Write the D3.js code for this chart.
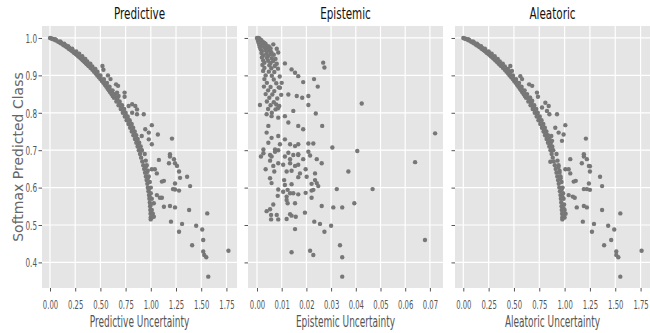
<!DOCTYPE html>
<html>
<head>
<meta charset="utf-8">
<script src="https://cdn.jsdelivr.net/npm/d3@7"></script>
<style>
  html, body { margin: 0; padding: 0; background: #fff; }
  svg { display: block; }
</style>
</head>
<body>
<script>
// chart values: [uncertainty, softmax of predicted class]
const predictivePts = [
  [0.0, 1.0], [0.011, 0.999], [0.021, 0.998], [0.03, 0.997], [0.045, 0.995], [0.06, 0.993],
  [0.081, 0.99], [0.1, 0.987], [0.112, 0.985], [0.13, 0.982], [0.141, 0.98], [0.158, 0.977],
  [0.169, 0.975], [0.184, 0.972], [0.194, 0.97], [0.209, 0.967], [0.219, 0.965], [0.233, 0.962],
  [0.242, 0.96], [0.256, 0.957], [0.265, 0.955], [0.278, 0.952], [0.286, 0.95], [0.299, 0.947],
  [0.307, 0.945], [0.32, 0.942], [0.327, 0.94], [0.339, 0.937], [0.347, 0.935], [0.358, 0.932],
  [0.366, 0.93], [0.377, 0.927], [0.384, 0.925], [0.402, 0.92], [0.42, 0.915], [0.437, 0.91],
  [0.453, 0.905], [0.469, 0.9], [0.485, 0.895], [0.5, 0.89], [0.515, 0.885], [0.529, 0.88],
  [0.544, 0.875], [0.557, 0.87], [0.571, 0.865], [0.584, 0.86], [0.597, 0.855], [0.61, 0.85],
  [0.622, 0.845], [0.634, 0.84], [0.658, 0.83], [0.68, 0.82], [0.702, 0.81], [0.722, 0.8],
  [0.742, 0.79], [0.76, 0.78], [0.778, 0.77], [0.795, 0.76], [0.811, 0.75], [0.827, 0.74],
  [0.842, 0.73], [0.856, 0.72], [0.869, 0.71], [0.881, 0.7], [0.893, 0.69], [0.904, 0.68],
  [0.915, 0.67], [0.925, 0.66], [0.934, 0.65], [0.943, 0.64], [0.951, 0.63], [0.958, 0.62],
  [0.965, 0.61], [0.971, 0.6], [0.977, 0.59], [0.982, 0.58], [0.986, 0.57], [0.99, 0.56],
  [0.993, 0.55], [0.995, 0.54], [0.997, 0.53], [0.999, 0.52], [0.999, 0.515],
  // band just right of the envelope
  [0.05, 0.997], [0.1, 0.991], [0.14, 0.985], [0.18, 0.978], [0.22, 0.971], [0.26, 0.964],
  [0.29, 0.958], [0.32, 0.951], [0.35, 0.944], [0.37, 0.937], [0.4, 0.931], [0.42, 0.924],
  [0.45, 0.917], [0.47, 0.91], [0.5, 0.9], [0.535, 0.89], [0.565, 0.88], [0.59, 0.87],
  [0.62, 0.86], [0.645, 0.85], [0.67, 0.84], [0.69, 0.83], [0.715, 0.82], [0.735, 0.81],
  [0.75, 0.8], [0.77, 0.79], [0.79, 0.78], [0.81, 0.77], [0.825, 0.76], [0.84, 0.75],
  [0.855, 0.74], [0.87, 0.73], [0.885, 0.72], [0.9, 0.71], [0.91, 0.7],
  [0.06, 0.995], [0.11, 0.988], [0.155, 0.981], [0.19, 0.974], [0.225, 0.967], [0.26, 0.96],
  [0.287, 0.954], [0.317, 0.947], [0.345, 0.94], [0.37, 0.934], [0.395, 0.927], [0.42, 0.92],
  [0.445, 0.913], [0.47, 0.905], [0.5, 0.895], [0.533, 0.885], [0.56, 0.875], [0.59, 0.865],
  [0.615, 0.855], [0.64, 0.845], [0.665, 0.835], [0.69, 0.825], [0.71, 0.815], [0.73, 0.805],
  [0.75, 0.795], [0.77, 0.785], [0.79, 0.775], [0.805, 0.765], [0.82, 0.755], [0.836, 0.745],
  [0.85, 0.735], [0.865, 0.725], [0.88, 0.715], [0.893, 0.705],
  [0.94, 0.69], [0.95, 0.672], [0.96, 0.66], [0.97, 0.645], [0.98, 0.63], [0.99, 0.615],
  [1.0, 0.6], [1.0, 0.585], [1.01, 0.57], [1.0, 0.555], [1.01, 0.54], [1.02, 0.53],
  [1.01, 0.52], [0.99, 0.575], [0.98, 0.595], [0.97, 0.625], [0.96, 0.64], [0.95, 0.655],
  // scattered points
  [0.52, 0.925], [0.53, 0.915], [0.575, 0.9], [0.6, 0.89], [0.655, 0.876], [0.675, 0.872],
  [0.74, 0.854], [0.74, 0.843], [0.665, 0.854], [0.68, 0.845], [0.78, 0.818], [0.815, 0.823],
  [0.846, 0.818], [0.863, 0.809], [0.815, 0.8], [0.863, 0.796], [0.93, 0.796], [1.01, 0.767],
  [0.945, 0.756], [0.98, 0.747], [1.07, 0.742], [0.98, 0.729], [1.01, 0.716], [0.91, 0.738],
  [1.21, 0.731], [1.19, 0.689], [0.91, 0.699], [1.08, 0.674], [1.19, 0.683], [1.23, 0.676],
  [1.24, 0.665], [1.26, 0.658], [1.18, 0.665], [1.28, 0.643], [1.29, 0.626], [1.36, 0.629],
  [1.39, 0.604], [1.01, 0.649], [1.04, 0.649], [1.06, 0.638], [1.11, 0.616], [1.13, 0.618],
  [1.24, 0.611], [1.24, 0.595], [1.28, 0.592], [1.22, 0.596], [1.06, 0.58], [1.09, 0.573],
  [1.11, 0.573], [1.03, 0.558], [1.13, 0.549], [1.19, 0.551], [1.24, 0.547], [1.38, 0.54],
  [1.56, 0.531], [1.2, 0.509], [1.31, 0.503], [1.28, 0.482], [1.45, 0.498], [1.51, 0.488],
  [1.52, 0.46], [1.41, 0.446], [1.52, 0.429], [1.53, 0.42], [1.55, 0.414], [1.77, 0.431],
  [1.57, 0.362], [1.03, 0.522]
];

const epistemicPts = [
  // dense wedge near zero
  [0.0, 1.0], [0.0005, 1.0], [0.001, 0.999], [0.0003, 0.995], [0.001, 0.995], [0.0018, 0.994],
  [0.0005, 0.99], [0.0015, 0.99], [0.0025, 0.989], [0.003, 0.987], [0.0008, 0.985], [0.002, 0.985],
  [0.0035, 0.984], [0.001, 0.98], [0.0025, 0.98], [0.004, 0.979], [0.0048, 0.977], [0.0012, 0.975],
  [0.003, 0.975], [0.0045, 0.973], [0.0055, 0.972], [0.0015, 0.97], [0.0035, 0.968], [0.005, 0.967],
  [0.002, 0.965], [0.004, 0.963], [0.0058, 0.962], [0.0018, 0.96], [0.0038, 0.958], [0.0055, 0.957],
  [0.0068, 0.955], [0.0025, 0.953], [0.0045, 0.952], [0.002, 0.948], [0.004, 0.947], [0.006, 0.946],
  [0.0075, 0.944], [0.0025, 0.94], [0.0045, 0.939], [0.0065, 0.938], [0.003, 0.934], [0.0055, 0.933],
  [0.008, 0.931], [0.0022, 0.928], [0.005, 0.927], [0.0072, 0.925], [0.003, 0.92], [0.0058, 0.919],
  [0.0085, 0.918], [0.0025, 0.912], [0.0048, 0.91], [0.007, 0.909], [0.0035, 0.9], [0.006, 0.899],
  [0.0092, 0.897], [0.003, 0.89], [0.0068, 0.889], [0.004, 0.88], [0.0078, 0.879], [0.0028, 0.87],
  [0.0055, 0.869], [0.0088, 0.868], [0.0045, 0.86], [0.007, 0.858], [0.0035, 0.85], [0.0062, 0.849],
  [0.0098, 0.848], [0.005, 0.84], [0.0082, 0.838], [0.004, 0.83], [0.0068, 0.828], [0.0055, 0.82],
  [0.009, 0.818], [0.0045, 0.81], [0.0075, 0.809], [0.006, 0.8], [0.0085, 0.812], [0.0078, 0.822],
  // looser points
  [0.0066, 0.983], [0.008, 0.971], [0.0086, 0.961], [0.0113, 0.932], [0.014, 0.916], [0.0154, 0.907],
  [0.0167, 0.898], [0.0187, 0.882], [0.0268, 0.934], [0.0273, 0.921], [0.0231, 0.89], [0.0246, 0.87],
  [0.01, 0.88], [0.0093, 0.867], [0.0127, 0.849], [0.0161, 0.845], [0.0183, 0.84], [0.0208, 0.845],
  [0.0208, 0.821], [0.0424, 0.825], [0.0012, 0.821], [0.0147, 0.805], [0.0238, 0.798], [0.0039, 0.796],
  [0.0059, 0.791], [0.0086, 0.787], [0.0113, 0.791], [0.0127, 0.774], [0.0167, 0.765], [0.0187, 0.756],
  [0.0264, 0.765], [0.0721, 0.745], [0.0046, 0.765], [0.0039, 0.747], [0.0059, 0.733], [0.0046, 0.72],
  [0.0086, 0.738], [0.0113, 0.729], [0.0093, 0.716], [0.0134, 0.716], [0.0154, 0.711], [0.0167, 0.716],
  [0.0208, 0.718], [0.0228, 0.718], [0.0305, 0.707], [0.0406, 0.698], [0.0026, 0.702], [0.0073, 0.702],
  [0.0127, 0.693], [0.0167, 0.689], [0.0215, 0.686], [0.064, 0.668], [0.0016, 0.683], [0.0026, 0.692],
  [0.0053, 0.687], [0.0059, 0.683], [0.0073, 0.696], [0.0086, 0.7], [0.0113, 0.683], [0.0134, 0.676],
  [0.0147, 0.687], [0.0167, 0.687], [0.0187, 0.676], [0.0208, 0.696], [0.0242, 0.676], [0.0262, 0.665],
  [0.0053, 0.672], [0.0066, 0.658], [0.0086, 0.665], [0.0106, 0.661], [0.0134, 0.665], [0.0154, 0.658],
  [0.0167, 0.661], [0.0035, 0.649], [0.007, 0.643], [0.012, 0.643], [0.014, 0.645], [0.0174, 0.638],
  [0.0197, 0.649], [0.0235, 0.638], [0.037, 0.643], [0.0053, 0.625], [0.0059, 0.612], [0.011, 0.62],
  [0.0113, 0.607], [0.014, 0.609], [0.0167, 0.628], [0.0201, 0.629], [0.0235, 0.62], [0.0221, 0.61],
  [0.0248, 0.604], [0.0242, 0.612], [0.0323, 0.596], [0.0468, 0.596], [0.0086, 0.595], [0.0106, 0.589],
  [0.0124, 0.594], [0.0134, 0.585], [0.012, 0.576], [0.0147, 0.585], [0.0167, 0.582], [0.0197, 0.586],
  [0.0221, 0.592], [0.0228, 0.594], [0.0084, 0.578], [0.012, 0.567], [0.0124, 0.558], [0.0154, 0.558],
  [0.0221, 0.573], [0.0262, 0.551], [0.0309, 0.547], [0.0345, 0.547], [0.0394, 0.558], [0.0066, 0.555],
  [0.0039, 0.537], [0.0053, 0.542], [0.0057, 0.527], [0.0057, 0.515], [0.008, 0.527], [0.0086, 0.515],
  [0.012, 0.516], [0.0134, 0.529], [0.014, 0.525], [0.0157, 0.522], [0.0194, 0.533], [0.0154, 0.489],
  [0.0232, 0.509], [0.0255, 0.503], [0.0273, 0.482], [0.03, 0.498], [0.0336, 0.446], [0.068, 0.46],
  [0.014, 0.427], [0.0215, 0.431], [0.0228, 0.42], [0.0345, 0.414], [0.0345, 0.362]
];

const aleatoricPts = [
  [0.0, 1.0], [0.01, 0.999], [0.02, 0.998], [0.029, 0.997], [0.044, 0.995], [0.058, 0.993],
  [0.078, 0.99], [0.097, 0.987], [0.109, 0.985], [0.126, 0.982], [0.137, 0.98], [0.153, 0.977],
  [0.164, 0.975], [0.179, 0.972], [0.189, 0.97], [0.203, 0.967], [0.213, 0.965], [0.226, 0.962],
  [0.235, 0.96], [0.249, 0.957], [0.258, 0.955], [0.27, 0.952], [0.279, 0.95], [0.291, 0.947],
  [0.299, 0.945], [0.311, 0.942], [0.319, 0.94], [0.33, 0.937], [0.338, 0.935], [0.349, 0.932],
  [0.356, 0.93], [0.367, 0.927], [0.374, 0.925], [0.392, 0.92], [0.409, 0.915], [0.426, 0.91],
  [0.442, 0.905], [0.457, 0.9], [0.473, 0.895], [0.488, 0.89], [0.502, 0.885], [0.516, 0.88],
  [0.53, 0.875], [0.543, 0.87], [0.557, 0.865], [0.57, 0.86], [0.582, 0.855], [0.595, 0.85],
  [0.607, 0.845], [0.619, 0.84], [0.642, 0.83], [0.664, 0.82], [0.685, 0.81], [0.705, 0.8],
  [0.724, 0.79], [0.742, 0.78], [0.76, 0.77], [0.776, 0.76], [0.792, 0.75], [0.807, 0.74],
  [0.822, 0.73], [0.836, 0.72], [0.849, 0.71], [0.861, 0.7], [0.872, 0.69], [0.883, 0.68],
  [0.893, 0.67], [0.903, 0.66], [0.912, 0.65], [0.92, 0.64], [0.928, 0.63], [0.935, 0.62],
  [0.942, 0.61], [0.948, 0.6], [0.954, 0.59], [0.959, 0.58], [0.963, 0.57], [0.967, 0.56],
  [0.97, 0.55], [0.972, 0.54], [0.975, 0.53], [0.977, 0.52], [0.978, 0.515],
  // band just right of the envelope
  [0.048, 0.997], [0.095, 0.991], [0.135, 0.985], [0.175, 0.978], [0.213, 0.971], [0.25, 0.964],
  [0.28, 0.958], [0.31, 0.951], [0.34, 0.944], [0.36, 0.937], [0.39, 0.931], [0.41, 0.924],
  [0.44, 0.917], [0.46, 0.91], [0.49, 0.9], [0.52, 0.89], [0.55, 0.88], [0.575, 0.87],
  [0.605, 0.86], [0.63, 0.85], [0.655, 0.84], [0.675, 0.83], [0.7, 0.82], [0.72, 0.81],
  [0.735, 0.8], [0.755, 0.79], [0.772, 0.78], [0.79, 0.77], [0.805, 0.76], [0.82, 0.75],
  [0.835, 0.74], [0.85, 0.73], [0.864, 0.72], [0.878, 0.71], [0.888, 0.7],
  [0.058, 0.995], [0.106, 0.988], [0.15, 0.981], [0.184, 0.974], [0.218, 0.967], [0.252, 0.96],
  [0.279, 0.954], [0.308, 0.947], [0.335, 0.94], [0.36, 0.934], [0.385, 0.927], [0.41, 0.92],
  [0.434, 0.913], [0.458, 0.905], [0.488, 0.895], [0.52, 0.885], [0.546, 0.875], [0.575, 0.865],
  [0.6, 0.855], [0.624, 0.845], [0.648, 0.835], [0.672, 0.825], [0.692, 0.815], [0.712, 0.805],
  [0.731, 0.795], [0.75, 0.785], [0.769, 0.775], [0.784, 0.765], [0.799, 0.755], [0.814, 0.745],
  [0.828, 0.735], [0.842, 0.725], [0.856, 0.715], [0.868, 0.705],
  [0.92, 0.69], [0.93, 0.672], [0.94, 0.66], [0.95, 0.645], [0.96, 0.63], [0.97, 0.615],
  [0.98, 0.6], [0.985, 0.585], [0.99, 0.57], [0.995, 0.555], [1.0, 0.54], [1.01, 0.53],
  [1.0, 0.52], [0.98, 0.575], [0.97, 0.595], [0.96, 0.625], [0.95, 0.64], [0.94, 0.655],
  [0.99, 0.545], [0.985, 0.525],
  // scattered points
  [0.464, 0.925], [0.48, 0.912], [0.563, 0.898], [0.58, 0.89], [0.65, 0.876], [0.68, 0.872],
  [0.727, 0.854], [0.737, 0.843], [0.66, 0.84], [0.68, 0.832], [0.81, 0.827], [0.843, 0.818],
  [0.826, 0.805], [0.777, 0.814], [0.85, 0.796], [0.925, 0.796], [0.908, 0.76], [0.941, 0.747],
  [1.007, 0.767], [0.99, 0.742], [0.974, 0.725], [0.869, 0.738], [0.876, 0.725], [1.21, 0.731],
  [1.19, 0.689], [0.859, 0.669], [1.056, 0.676], [1.19, 0.683], [1.22, 0.676], [1.24, 0.658],
  [1.25, 0.657], [1.17, 0.665], [1.25, 0.643], [1.35, 0.629], [1.37, 0.604], [1.007, 0.649],
  [1.04, 0.649], [1.056, 0.638], [1.09, 0.616], [1.11, 0.618], [1.19, 0.596], [1.22, 0.596],
  [1.25, 0.594], [1.24, 0.611], [1.04, 0.58], [1.08, 0.576], [1.1, 0.573], [1.12, 0.547],
  [1.19, 0.551], [1.22, 0.547], [1.37, 0.54], [1.55, 0.531], [1.18, 0.509], [1.29, 0.503],
  [1.27, 0.482], [1.43, 0.498], [1.49, 0.488], [1.46, 0.46], [1.39, 0.446], [1.51, 0.429],
  [1.51, 0.42], [1.53, 0.414], [1.76, 0.431], [1.55, 0.362]
];

const titles = ["Predictive", "Epistemic", "Aleatoric"];
const xLabels = ["Predictive Uncertainty", "Epistemic Uncertainty", "Aleatoric Uncertainty"];
const wideTicks = [0, 0.25, 0.5, 0.75, 1.0, 1.25, 1.5, 1.75];
const wideTickLabels = ["0.00", "0.25", "0.50", "0.75", "1.00", "1.25", "1.50", "1.75"];
const smallTicks = [0, 0.01, 0.02, 0.03, 0.04, 0.05, 0.06, 0.07];
const smallTickLabels = ["0.00", "0.01", "0.02", "0.03", "0.04", "0.05", "0.06", "0.07"];
const yTicks = [0.4, 0.5, 0.6, 0.7, 0.8, 0.9, 1.0];
const yTickLabels = ["0.4", "0.5", "0.6", "0.7", "0.8", "0.9", "1.0"];
const yLabel = "Softmax Predicted Class";

const width = 650;
const height = 333;
const marginTop = 26;
const marginBottom = 45;
const panelLefts = [42, 248, 455];
const panelWidth = 195;

const svg = d3.select("body")
  .append("svg")
  .attr("width", width)
  .attr("height", height);

svg.append("rect")
  .attr("width", width)
  .attr("height", height)
  .attr("fill", "white");

const y = d3.scaleLinear()
  .domain([0.3316, 1.032])
  .range([height - marginBottom, marginTop]);

const panelData = [predictivePts, epistemicPts, aleatoricPts];
const xDomains = [[-0.0794, 1.855], [-0.00364, 0.0753], [-0.082, 1.843]];
const xTickSets = [wideTicks, smallTicks, wideTicks];
const xTickLabelSets = [wideTickLabels, smallTickLabels, wideTickLabels];

panelData.forEach(function (pts, i) {
  const left = panelLefts[i];
  const x = d3.scaleLinear()
    .domain(xDomains[i])
    .range([left, left + panelWidth]);

  const g = svg.append("g");

  // background
  g.append("rect")
    .attr("x", left)
    .attr("y", marginTop)
    .attr("width", panelWidth)
    .attr("height", height - marginBottom - marginTop)
    .attr("fill", "#e5e5e5");

  // grid
  g.selectAll(".vgrid")
    .data(xTickSets[i])
    .join("line")
    .attr("x1", d => x(d)).attr("x2", d => x(d))
    .attr("y1", marginTop).attr("y2", height - marginBottom)
    .attr("stroke", "white")
    .attr("stroke-width", 1.2);

  g.selectAll(".hgrid")
    .data(yTicks)
    .join("line")
    .attr("x1", left).attr("x2", left + panelWidth)
    .attr("y1", d => y(d)).attr("y2", d => y(d))
    .attr("stroke", "white")
    .attr("stroke-width", 1.2);

  // points
  g.selectAll("circle")
    .data(pts)
    .join("circle")
    .attr("cx", d => x(d[0]))
    .attr("cy", d => y(d[1]))
    .attr("r", 2.2)
    .attr("fill", "#777777");

  // x axis
  const xAxis = d3.axisBottom(x)
    .tickValues(xTickSets[i])
    .tickFormat((d, k) => xTickLabelSets[i][k])
    .tickSize(3.5)
    .tickPadding(4);

  const xa = g.append("g")
    .attr("transform", "translate(0," + (height - marginBottom) + ")")
    .call(xAxis);
  xa.select(".domain").remove();
  xa.selectAll(".tick line").attr("stroke", "#555555");
  xa.selectAll(".tick text")
    .attr("y", 0)
    .attr("dy", null)
    .attr("transform", "translate(0,20.5) scale(0.55,1)")
    .attr("fill", "#555555")
    .style("font-family", "DejaVu Sans")
    .style("font-size", "12.5px");

  // y axis (labels only on the first panel)
  const yAxis = d3.axisLeft(y)
    .tickValues(yTicks)
    .tickFormat((d, k) => (i === 0 ? yTickLabels[k] : ""))
    .tickSize(3.5);

  const ya = g.append("g")
    .attr("transform", "translate(" + left + ",0)")
    .call(yAxis);
  ya.select(".domain").remove();
  ya.selectAll(".tick line").attr("stroke", "#555555");
  ya.selectAll(".tick text")
    .attr("x", 0)
    .attr("dy", "0.34em")
    .attr("transform", "translate(-5,0) scale(0.58,1)")
    .attr("fill", "#555555")
    .style("font-family", "DejaVu Sans")
    .style("font-size", "12.5px");

  // title
  g.append("text")
    .attr("text-anchor", "middle")
    .attr("transform", "translate(" + (left + panelWidth / 2) + ",19) scale(0.65,1)")
    .attr("fill", "#111111")
    .style("font-family", "DejaVu Sans")
    .style("font-size", "16px")
    .text(titles[i]);

  // x label
  g.append("text")
    .attr("text-anchor", "middle")
    .attr("transform", "translate(" + (left + panelWidth / 2) + ",327) scale(0.6,1)")
    .attr("fill", "#555555")
    .style("font-family", "DejaVu Sans")
    .style("font-size", "15px")
    .text(xLabels[i]);
});

svg.append("text")
  .attr("text-anchor", "middle")
  .attr("transform", "translate(22.5," + ((marginTop + height - marginBottom) / 2) + ") rotate(-90)")
  .attr("fill", "#666666")
  .style("font-family", "DejaVu Sans")
  .style("font-size", "14px")
  .text(yLabel);
</script>
</body>
</html>
